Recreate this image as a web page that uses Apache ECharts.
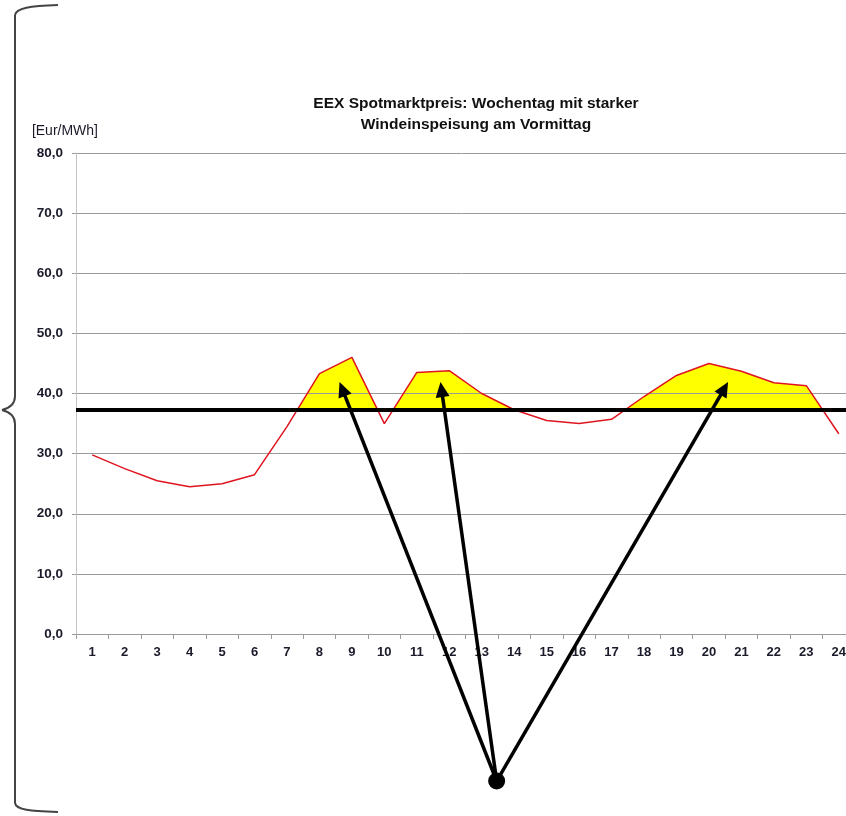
<!DOCTYPE html>
<html>
<head>
<meta charset="utf-8">
<script src="https://cdn.jsdelivr.net/npm/echarts@6/dist/echarts.min.js"></script>
<style>
  html, body { margin: 0; padding: 0; background: #fff; }
  #chart { width: 846px; height: 816px; }
</style>
</head>
<body>
<div id="chart"></div>
<script>
// Hours of the day
const hours = ['1','2','3','4','5','6','7','8','9','10','11','12','13','14','15','16','17','18','19','20','21','22','23','24'];
// EEX spot price per hour [Eur/MWh]
const prices = [29.8, 27.5, 25.5, 24.5, 25.0, 26.5, 34.5, 43.3, 46.0, 35.0, 43.5, 43.8, 40.0, 37.3, 35.5, 35.0, 35.7, 39.5, 43.0, 45.0, 43.7, 41.8, 41.3, 33.3];
// Reference price level (thick horizontal line)
const basePrice = 37.3;
// Y axis ticks
const yTicks = [0, 10, 20, 30, 40, 50, 60, 70, 80];
// Annotation arrows: common origin and arrow tips, in (hour, price) units
const arrowOrigin = [13.46, -24.45];
const arrowTips = [[8.62, 41.9], [11.73, 41.9], [20.59, 41.9]];

const chart = echarts.init(document.getElementById('chart'), null, { renderer: 'canvas' });
const font = 'Liberation Sans, Arial, sans-serif';
const W = 846, H = 816;

// Curly brace at the left edge, built from plain graphic primitives
const braceStyle = { fill: 'none', stroke: '#444', lineWidth: 2 };
const brace = [
  { type: 'bezierCurve', shape: { x1: 58, y1: 5, cpx1: 30, cpy1: 6, cpx2: 16, cpy2: 8, x2: 15, y2: 15 } },
  { type: 'line', shape: { x1: 15, y1: 15, x2: 15, y2: 396 } },
  { type: 'bezierCurve', shape: { x1: 15, y1: 396, cpx1: 15, cpy1: 404, cpx2: 10, cpy2: 408, x2: 2, y2: 410 } },
  { type: 'bezierCurve', shape: { x1: 2, y1: 410, cpx1: 10, cpy1: 412, cpx2: 15, cpy2: 416, x2: 15, y2: 424 } },
  { type: 'line', shape: { x1: 15, y1: 424, x2: 15, y2: 803 } },
  { type: 'bezierCurve', shape: { x1: 15, y1: 803, cpx1: 16, cpy1: 810, cpx2: 30, cpy2: 811, x2: 58, y2: 812 } }
].map(el => Object.assign(el, { z: 20, style: braceStyle }));

const option = {
  animation: false,
  backgroundColor: '#ffffff',
  title: {
    text: 'EEX Spotmarktpreis: Wochentag mit starker\nWindeinspeisung am Vormittag',
    left: 471,
    top: 88,
    textAlign: 'center',
    textStyle: { fontFamily: font, fontSize: 15.5, fontWeight: 'bold', color: '#111', lineHeight: 21, align: 'center' }
  },
  // the plot runs slightly past the right edge of the page
  grid: { left: 76, top: 153, width: 779, height: 481, outerBoundsMode: 'none' },
  xAxis: [
    {
      type: 'category',
      data: hours,
      boundaryGap: true,
      axisLine: { lineStyle: { color: '#9a9a9a', width: 1 } },
      axisTick: { show: true, length: 5, lineStyle: { color: '#9a9a9a' } },
      axisLabel: { margin: 12, fontFamily: font, fontSize: 13, fontWeight: 'bold', color: '#1a1a2a', interval: 0 },
      splitLine: { show: false }
    },
    {
      type: 'value',
      min: 0.5,
      max: 24.5,
      show: false,
      splitLine: { show: false }
    }
  ],
  yAxis: {
    type: 'value',
    z: 1.5,
    min: yTicks[0],
    max: yTicks[yTicks.length - 1],
    interval: 10,
    name: '[Eur/MWh]',
    nameLocation: 'end',
    nameGap: 15,
    nameTextStyle: { fontFamily: font, fontSize: 14, color: '#1a1a2a', align: 'right', padding: [0, -22, 0, 0] },
    axisLine: { show: true, lineStyle: { color: '#c4c4c4', width: 1 } },
    axisTick: { show: true, length: 4, lineStyle: { color: '#9a9a9a' } },
    axisLabel: {
      margin: 13,
      fontFamily: font, fontSize: 13.5, fontWeight: 'bold', color: '#1a1a2a',
      formatter: v => v.toFixed(1).replace('.', ',')
    },
    splitLine: { show: true, lineStyle: { color: '#9a9a9a', width: 1 } }
  },
  series: [
    {
      // yellow area between the price curve and the reference level
      type: 'line',
      data: prices,
      z: 1,
      symbol: 'none',
      lineStyle: { width: 0, opacity: 0 },
      areaStyle: { origin: basePrice, opacity: 1, color: 'rgba(255,255,0,0)' },
      silent: true
    },
    {
      type: 'line',
      data: prices,
      symbol: 'none',
      z: 3,
      lineStyle: { color: '#e0141f', width: 1.5 },
      itemStyle: { color: '#e0141f' },
      markLine: {
        silent: true,
        symbol: ['none', 'none'],
        label: { show: false },
        lineStyle: { color: '#000', width: 4, type: 'solid' },
        data: [{ yAxis: basePrice }]
      }
    }
  ],
  graphic: brace
};

chart.setOption(option);

// Only the part of the area above the reference level is painted yellow
const baseY = chart.convertToPixel({ yAxisIndex: 0 }, basePrice);
const cut = baseY / H;
chart.setOption({
  series: [{
    areaStyle: {
      color: new echarts.graphic.LinearGradient(0, 0, 0, H, [
        { offset: 0, color: '#ffff00' },
        { offset: cut, color: '#ffff00' },
        { offset: cut, color: 'rgba(255,255,0,0)' },
        { offset: 1, color: 'rgba(255,255,0,0)' }
      ], true)
    }
  }]
});

// Annotation arrows, placed through the hidden value x axis
const finder = { xAxisIndex: 1, yAxisIndex: 0 };
const o = chart.convertToPixel(finder, arrowOrigin);
const arrows = [];
arrowTips.forEach(t => {
  const p = chart.convertToPixel(finder, t);
  const dx = p[0] - o[0], dy = p[1] - o[1];
  const len = Math.sqrt(dx * dx + dy * dy);
  const ux = dx / len, uy = dy / len;
  const headLen = 15, headHalf = 7;
  const bx = p[0] - ux * headLen, by = p[1] - uy * headLen;
  arrows.push({
    type: 'line', z: 30,
    shape: { x1: o[0], y1: o[1], x2: bx + ux * 2, y2: by + uy * 2 },
    style: { stroke: '#000', lineWidth: 3.5 }
  });
  arrows.push({
    type: 'polygon', z: 30,
    shape: { points: [[p[0], p[1]], [bx - uy * headHalf, by + ux * headHalf], [bx + uy * headHalf, by - ux * headHalf]] },
    style: { fill: '#000' }
  });
});
arrows.push({ type: 'circle', z: 31, shape: { cx: o[0], cy: o[1], r: 8.5 }, style: { fill: '#000' } });
chart.setOption({ graphic: brace.concat(arrows) });
</script>
</body>
</html>
